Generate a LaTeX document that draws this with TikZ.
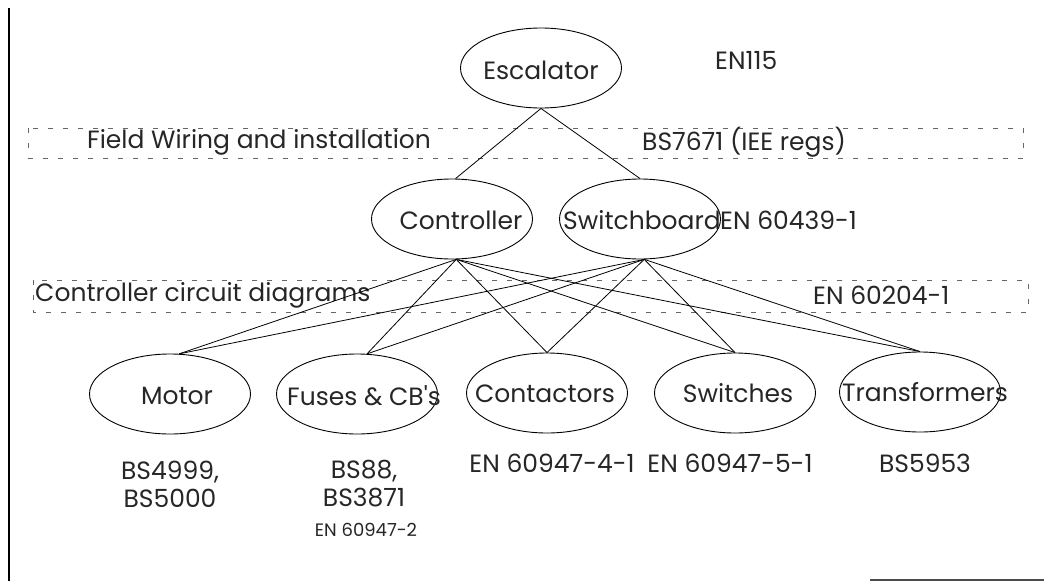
\documentclass[tikz,border=0pt]{standalone}
\usepackage{fontspec}
\setmainfont{Poppins}[Ligatures=TeXOff]
\usetikzlibrary{shapes.geometric}
\begin{document}
\begin{tikzpicture}[x=1pt,y=-1pt,
  ent/.style={ellipse,draw,line width=0.9pt,minimum width=161pt,minimum height=80pt,inner sep=0pt},
  lbl/.style={inner sep=0pt,font=\fontsize{25}{28}\selectfont,text=black!85},
  small/.style={inner sep=0pt,font=\fontsize{18}{20}\selectfont,text=black!85},
  band/.style={draw=black!60,line width=0.7pt,dash pattern=on 5pt off 10pt},
  link/.style={draw,line width=0.8pt}]
\useasboundingbox (0,0) rectangle (1044,581);
% frame fragments
\draw[line width=1.2pt] (9,8) -- (9,581);
\draw[line width=1.2pt,black!70] (870,580) -- (1044,580);
% dashed bands
\draw[band] (28,128) rectangle (1023,158);
\draw[band] (33,280) rectangle (1028,312);
\node[lbl,anchor=west] (bandA) at (87,142) {Field Wiring and installation};
\node[lbl,anchor=west] (stdA) at (642,142) {BS7671 (IEE regs)};
\node[lbl,anchor=west] (bandB) at (35,295) {Controller circuit diagrams};
\node[lbl,anchor=west] (stdB) at (813,295) {EN 60204-1};
% entities
\node[ent] (esc) at (541,68) {};
\node[ent] (ctl) at (452,219) {};
\node[ent] (swb) at (640,219) {};
\node[ent] (mot) at (170,394) {};
\node[ent] (fus) at (357,394) {};
\node[ent] (con) at (547,393) {};
\node[ent] (swi) at (735,393) {};
\node[ent] (tra) at (920,392) {};
\node[lbl] (tesc) at (541,70) {Escalator};
\node[lbl] (tctl) at (461,220) {Controller};
\node[lbl] (tswb) at (642,220) {Switchboard};
\node[lbl] (tmot) at (177,396) {Motor};
\node[lbl] (tfus) at (364,396) {Fuses \& CB's};
\node[lbl] (tcon) at (545,394) {Contactors};
\node[lbl] (tswi) at (738,393) {Switches};
\node[lbl] (ttra) at (925,392) {Transformers};
% standards
\node[lbl,anchor=west] (sesc) at (715,60) {EN115};
\node[lbl,anchor=west] (sswb) at (720,220) {EN 60439-1};
\node[lbl,align=center] (smot) at (170,484) {BS4999,\\BS5000};
\node[lbl,align=center] (sfus) at (364,484) {BS88,\\BS3871};
\node[small] (sfus2) at (366,530) {EN 60947-2};
\node[lbl] (scon) at (552,463) {EN 60947-4-1};
\node[lbl] (sswi) at (730,463) {EN 60947-5-1};
\node[lbl] (stra) at (925,463) {BS5953};
% connectors
\path[link] (esc.south) -- (ctl.85) (esc.south) -- (swb.north);
\foreach \s in {ctl,swb}{
  \path[link] (\s.-84) -- (mot.77);
  \path[link] (\s.-84) -- (fus.76);
  \path[link] (\s.-84) -- (con.north);
  \path[link] (\s.-84) -- (swi.north);
  \path[link] (\s.-84) -- (tra.north);
}
\end{tikzpicture}
\end{document}
